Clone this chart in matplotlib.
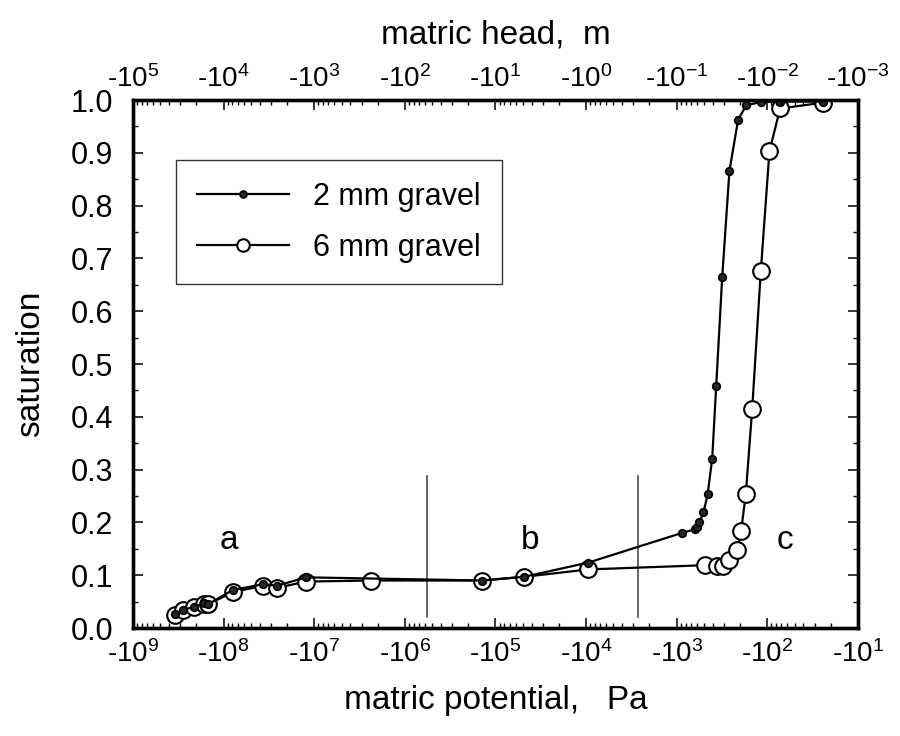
import numpy as np
import matplotlib
matplotlib.use("Agg")
import matplotlib.pyplot as plt
from matplotlib.ticker import LogLocator, FuncFormatter, MultipleLocator, NullFormatter

plt.rcParams['font.family'] = ['Liberation Sans', 'DejaVu Sans']
plt.rcParams['mathtext.fontset'] = 'custom'
plt.rcParams['mathtext.rm'] = 'Liberation Sans'
plt.rcParams['mathtext.it'] = 'Liberation Sans'

# 2 mm gravel: matric potential (Pa) and saturation
psi_2mm = [-3.44e8, -2.79e8, -2.10e8, -1.63e8, -1.48e8, -7.94e7, -3.65e7, -2.59e7,
           -1.23e7, -1.42e5, -4.83e4, -9.44e3, -879, -627, -596, -562, -507,
           -456, -406, -367, -315, -262, -210, -171, -119, -72.3, -24.5]
sat_2mm = [0.026, 0.035, 0.040, 0.047, 0.045, 0.072, 0.083, 0.080,
           0.096, 0.090, 0.097, 0.124, 0.180, 0.187, 0.192, 0.200, 0.219,
           0.253, 0.321, 0.458, 0.664, 0.866, 0.963, 0.990, 0.996, 0.997, 0.997]

# 6 mm gravel
psi_6mm = [-3.44e8, -2.79e8, -2.10e8, -1.63e8, -1.48e8, -7.94e7, -3.65e7, -2.59e7,
           -1.23e7, -2.38e6, -1.42e5, -4.83e4, -9.44e3, -486, -361, -305, -262,
           -214, -195, -173, -147, -118, -94.8, -72.3, -24.2]
sat_6mm = [0.024, 0.034, 0.040, 0.046, 0.045, 0.068, 0.080, 0.076,
           0.088, 0.090, 0.090, 0.097, 0.111, 0.119, 0.118, 0.118, 0.129,
           0.148, 0.184, 0.253, 0.415, 0.677, 0.903, 0.984, 0.995]

# region dividers and labels
divider_psi = [-5.7e5, -2.67e3]
region_labels = ['a', 'b', 'c']
region_psi = [-8.7e7, -4.2e4, -64]
region_y = 0.165

pa_per_m = 1.0e4  # Pa per m of head (rho*g, rounded)

fig = plt.figure(figsize=(9, 7.36), dpi=100)
ax = fig.add_axes([0.1478, 0.1467, 0.8055, 0.7174])

ax.plot(np.abs(psi_2mm), sat_2mm, '-o', color='black', lw=1.6, ms=5.5,
        mfc='0.15', mec='black', mew=1.2, label='2 mm gravel', zorder=4)
ax.plot(np.abs(psi_6mm), sat_6mm, '-o', color='black', lw=1.6, ms=12,
        mfc='white', mec='black', mew=1.5, label='6 mm gravel', zorder=3)

for p in divider_psi:
    ax.plot([abs(p), abs(p)], [0.021, 0.287], color='0.3', lw=1.2, zorder=2)
for lab, p in zip(region_labels, region_psi):
    ax.text(abs(p), region_y, lab, fontsize=24, ha='center', va='center')

ax.set_xscale('log')
ax.set_xlim(1e9, 1e1)
ax.set_ylim(0, 1)

fmt = FuncFormatter(lambda v, pos: '-$10^{%d}$' % round(np.log10(v)))
ax.xaxis.set_major_locator(LogLocator(base=10, numticks=20))
ax.xaxis.set_minor_locator(LogLocator(base=10, subs=np.arange(2, 10), numticks=20))
ax.xaxis.set_major_formatter(fmt)
ax.xaxis.set_minor_formatter(NullFormatter())
ax.yaxis.set_major_locator(MultipleLocator(0.1))
ax.yaxis.set_minor_locator(MultipleLocator(0.05))
ax.yaxis.set_major_formatter(FuncFormatter(lambda v, pos: '%.1f' % v))

ax.tick_params(which='major', direction='in', length=7.5, width=1.1,
               right=True, top=False)
ax.tick_params(which='minor', direction='in', length=3.8, width=1.0,
               right=True, top=False)
ax.tick_params(axis='x', labelsize=20, pad=9)
ax.tick_params(axis='y', labelsize=22, pad=14)

ax.set_xlabel('matric potential,   Pa', fontsize=24, labelpad=12)
ax.set_ylabel('saturation', fontsize=24, labelpad=18)

# top axis: matric head in m
top = ax.twiny()
top.set_xscale('log')
top.set_xlim(1e9 / pa_per_m, 1e1 / pa_per_m)
top.xaxis.set_major_locator(LogLocator(base=10, numticks=20))
top.xaxis.set_minor_locator(LogLocator(base=10, subs=np.arange(2, 10), numticks=20))
top.xaxis.set_major_formatter(fmt)
top.xaxis.set_minor_formatter(NullFormatter())
top.tick_params(which='major', direction='in', length=7.5, width=1.1, labelsize=20, pad=5)
top.tick_params(which='minor', direction='in', length=3.8, width=1.0)
top.set_xlabel('matric head,  m', fontsize=24, labelpad=16)

for a in (ax, top):
    for s in a.spines.values():
        s.set_linewidth(2.4)

leg = ax.legend(loc='upper left', bbox_to_anchor=(0.059, 0.886), borderaxespad=0,
                fontsize=22, frameon=True, fancybox=False, edgecolor='black',
                handlelength=3.0, labelspacing=0.7, borderpad=0.7, handletextpad=0.8)
leg.get_frame().set_linewidth(1.0)
leg.legend_handles[0].set_markersize(5)
leg.legend_handles[1].set_markersize(9)

fig.savefig('out.png', dpi=100)
